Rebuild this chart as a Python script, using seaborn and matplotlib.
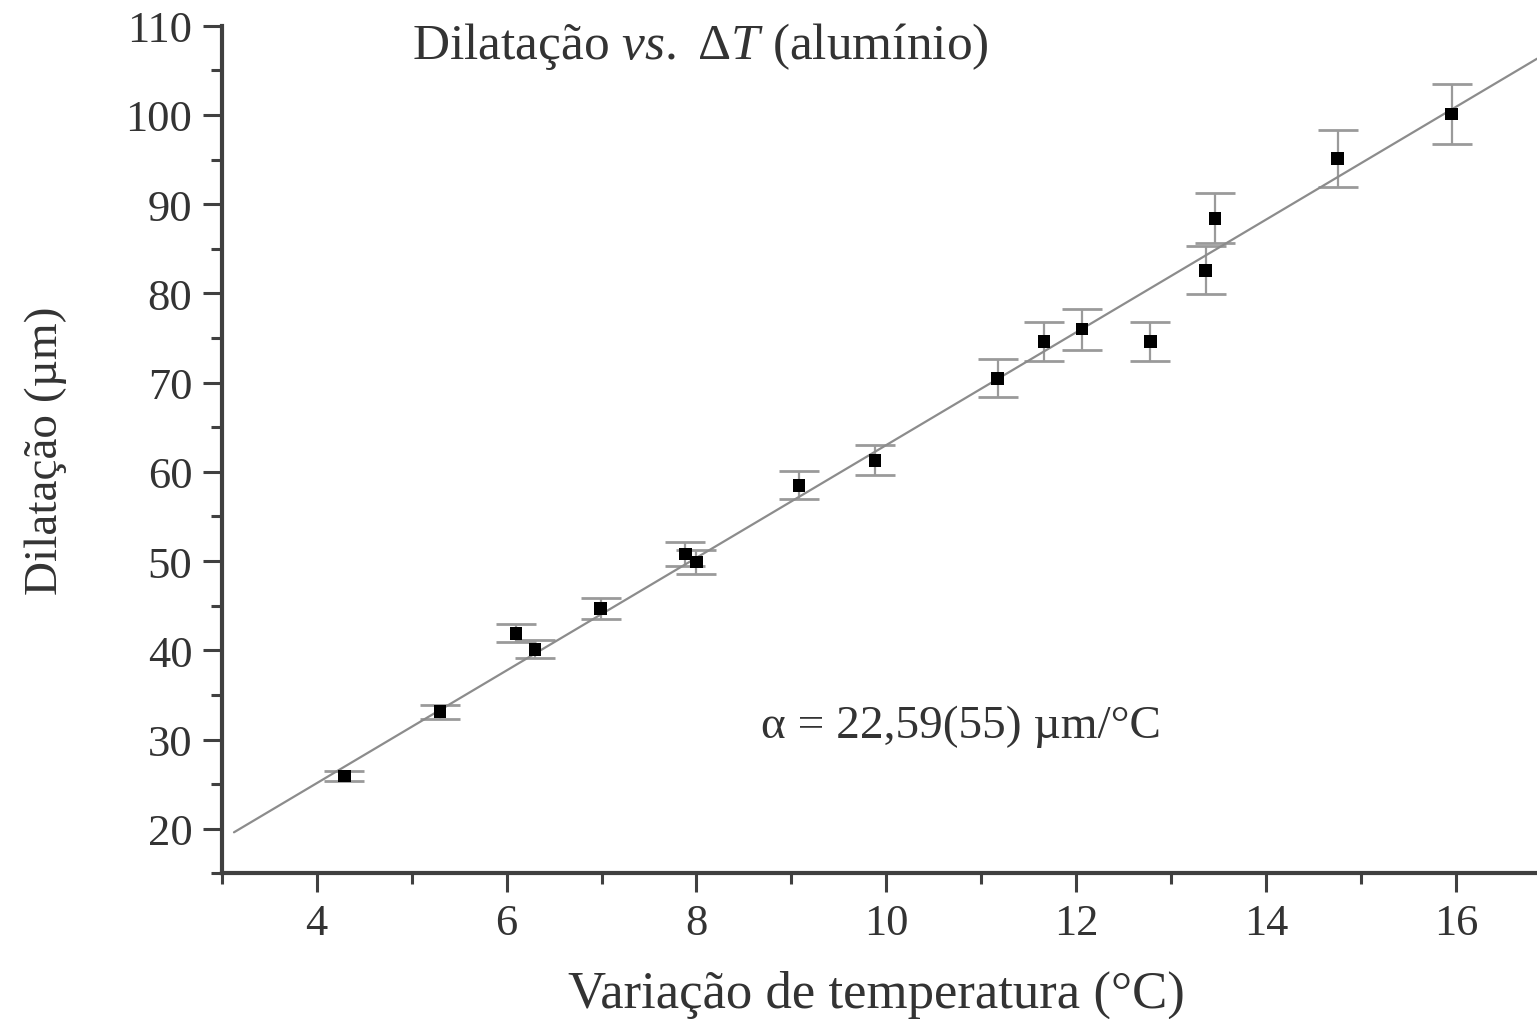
import numpy as np
import pandas as pd
import seaborn as sns
import matplotlib.pyplot as plt

# temperature change (°C), dilatation (µm) and its uncertainty
delta_t = [4.29, 5.30, 6.10, 6.30, 6.99, 7.88, 8.00, 9.08, 9.88,
           11.17, 11.66, 12.06, 12.78, 13.36, 13.46, 14.75, 15.95]
dilat = [25.9, 33.1, 41.9, 40.1, 44.7, 50.8, 49.9, 58.5, 61.3,
         70.5, 74.6, 76.0, 74.6, 82.6, 88.4, 95.1, 100.1]
dilat_err = [0.6, 0.8, 1.0, 1.0, 1.2, 1.3, 1.3, 1.6, 1.7,
             2.1, 2.2, 2.3, 2.2, 2.7, 2.8, 3.2, 3.4]

# fitted straight line (endpoints)
fit_x = [3.13, 16.85]
fit_y = [19.6, 106.3]

df = pd.DataFrame({"dT": delta_t, "dL": dilat, "err": dilat_err})
fit = pd.DataFrame({"x": fit_x, "y": fit_y})

sns.set_style("ticks")
plt.rcParams['font.family'] = ['Liberation Serif', 'DejaVu Serif']
plt.rcParams['mathtext.fontset'] = 'custom'
plt.rcParams['mathtext.rm'] = 'Liberation Serif'
plt.rcParams['mathtext.it'] = 'Liberation Serif:italic'

text_col = '#333333'
axis_col = '#404040'

fig = plt.figure(figsize=(15.37, 10.2), dpi=100)
ax = fig.add_axes([0.1442, 0.1428, 0.8558, 0.831])

ax.errorbar(df.dT, df.dL, yerr=df.err, fmt='none', ecolor='#9a9a9a',
            elinewidth=1.6, capsize=14.5, capthick=2.0, zorder=2)
sns.lineplot(data=fit, x='x', y='y', color='#8c8c8c', linewidth=1.6, ax=ax, zorder=3)
sns.scatterplot(data=df, x='dT', y='dL', marker='s', s=85, color='black',
                edgecolor='none', ax=ax, zorder=4)

ax.set_xlim(3, 16.85)
ax.set_ylim(15, 110)
ax.set_xticks(np.arange(4, 17, 2))
ax.set_xticks(np.arange(3, 17, 1), minor=True)
ax.set_yticks(np.arange(20, 111, 10))
ax.set_yticks(np.arange(15, 111, 5), minor=True)

for side in ['top', 'right']:
    ax.spines[side].set_visible(False)
for side in ['left', 'bottom']:
    ax.spines[side].set_linewidth(3)
    ax.spines[side].set_color(axis_col)

ax.tick_params(which='major', direction='out', length=14, width=2.2,
               color=axis_col, labelsize=32, labelcolor=text_col, pad=7)
ax.tick_params(which='minor', direction='out', length=8, width=2.2, color=axis_col)

ax.set_xlabel("Variação de temperatura (°C)", fontsize=38, color=text_col, va='center')
ax.xaxis.set_label_coords(0.498, -0.142)
ax.set_ylabel("Dilatação (µm)", fontsize=34, color=text_col, va='center')
ax.yaxis.set_label_coords(-0.134, 0.5)

ax.text(0.364, 0.977, r"Dilatação $\mathit{vs.}$ $\Delta T$ (alumínio)",
        transform=ax.transAxes, ha='center', va='center', fontsize=37, color=text_col)
ax.text(0.562, 0.174, "α = 22,59(55) µm/°C", transform=ax.transAxes,
        ha='center', va='center', fontsize=34, color=text_col)

fig.savefig("out.png", dpi=100)
plt.close()
